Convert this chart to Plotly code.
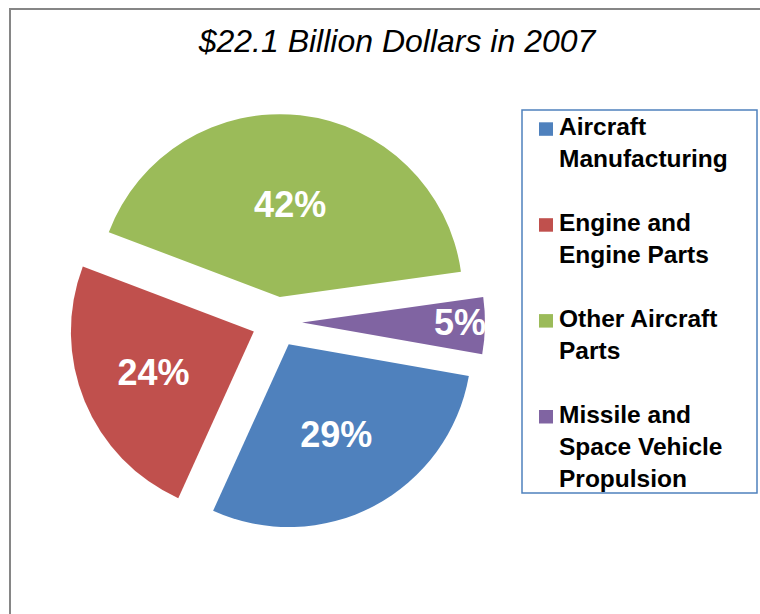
import plotly.graph_objects as go

# Shares of the $22.1B total, in percent
categories = [
    "Aircraft<br>Manufacturing",
    "Engine and<br>Engine Parts",
    "Other Aircraft<br>Parts",
    "Missile and<br>Space Vehicle<br>Propulsion",
]
shares = [29, 24, 42, 5]
colors = ["#4F81BD", "#C0504D", "#9BBB59", "#8064A2"]

W, H = 760, 614
FONT = "Liberation Sans, Arial"


def px_x(x):
    return x / W


def px_y(y):
    return 1 - y / H


fig = go.Figure(
    go.Pie(
        labels=categories,
        values=shares,
        sort=False,
        direction="clockwise",
        rotation=100,
        pull=[0.137] * len(shares),
        marker=dict(colors=colors, line=dict(width=0)),
        texttemplate="%{percent:.0%}",
        textposition="inside",
        insidetextorientation="horizontal",
        textfont=dict(family=FONT, size=36, color="white", weight="bold"),
        domain=dict(x=[px_x(69), px_x(485)], y=[px_y(530), px_y(114)]),
        hoverinfo="label+percent",
        showlegend=False,
    )
)

# legend box drawn beside the pie: border, colour keys and wrapped labels
legend_left, legend_top, legend_right, legend_bottom = 522, 110, 757, 493
entry_pitch = 95.9
shapes = [
    # outer chart frame (only the top and left edges fall inside the view)
    dict(
        type="rect", xref="paper", yref="paper",
        x0=px_x(10), x1=1.1, y0=-0.1, y1=px_y(9),
        line=dict(color="#868686", width=2),
        fillcolor="rgba(0,0,0,0)", layer="below",
    ),
    dict(
        type="rect", xref="paper", yref="paper",
        x0=px_x(legend_left), x1=px_x(legend_right),
        y0=px_y(legend_bottom), y1=px_y(legend_top),
        line=dict(color="#4F81BD", width=1.5),
        fillcolor="white", layer="below",
    ),
]
annotations = []
for i, (label, color) in enumerate(zip(categories, colors)):
    top = 122.3 + i * entry_pitch
    shapes.append(
        dict(
            type="rect", xref="paper", yref="paper",
            x0=px_x(539), x1=px_x(553), y0=px_y(top + 13.5), y1=px_y(top),
            line=dict(width=0), fillcolor=color,
        )
    )
    annotations.append(
        dict(
            text=label, xref="paper", yref="paper",
            x=px_x(557), y=px_y(top - 11),
            xanchor="left", yanchor="top", align="left",
            showarrow=False,
            font=dict(family=FONT, size=24.5, color="black", weight="bold"),
        )
    )

fig.update_layout(
    width=W,
    height=H,
    margin=dict(l=0, r=0, t=0, b=0),
    paper_bgcolor="white",
    plot_bgcolor="white",
    showlegend=False,
    uniformtext=dict(mode="show", minsize=36),
    title=dict(
        text="<i>$22.1 Billion Dollars in 2007</i>",
        font=dict(family=FONT, size=32, color="black"),
        x=px_x(397), xanchor="center", xref="paper",
        y=px_y(41), yanchor="middle", yref="paper",
    ),
    shapes=shapes,
    annotations=annotations,
)

fig.write_html("out.html")
